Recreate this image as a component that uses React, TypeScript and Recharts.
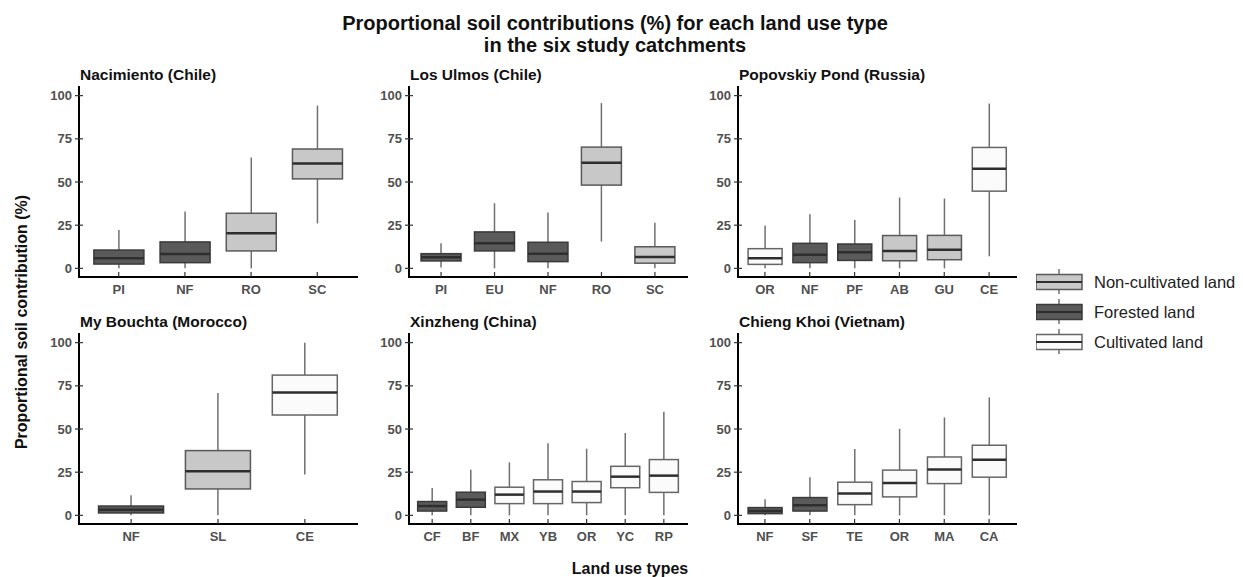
import React from 'react';
import { ComposedChart, Bar, XAxis, YAxis } from 'recharts';

// F = forested, N = non-cultivated, C = cultivated
const nacCats = ['PI', 'NF', 'RO', 'SC'];
const nacTypes = ['F', 'F', 'N', 'N'];
const nacMin = [0, 0, 0, 26];
const nacQ1 = [2.5, 3.3, 10.1, 51.8];
const nacMed = [5.8, 8.3, 20.3, 60.7];
const nacQ3 = [10.6, 15.3, 31.9, 69.1];
const nacMax = [22.2, 32.9, 64.2, 94.2];

const ulmCats = ['PI', 'EU', 'NF', 'RO', 'SC'];
const ulmTypes = ['F', 'F', 'F', 'N', 'N'];
const ulmMin = [0.5, 0, 0, 15.5, 0];
const ulmQ1 = [4.3, 10.1, 3.9, 48.2, 3];
const ulmMed = [6.4, 14.5, 8.5, 61.1, 6.6];
const ulmQ3 = [8.5, 21.1, 15.1, 70.2, 12.5];
const ulmMax = [14.5, 37.7, 32.3, 95.7, 26.4];

const popCats = ['OR', 'NF', 'PF', 'AB', 'GU', 'CE'];
const popTypes = ['C', 'F', 'F', 'N', 'N', 'C'];
const popMin = [0, 0, 0, 0, 0, 7];
const popQ1 = [2.3, 3.3, 4.6, 4.4, 5, 44.7];
const popMed = [5.8, 7.9, 9.3, 10.1, 10.8, 57.6];
const popQ3 = [11.4, 14.5, 14.1, 19, 19.1, 70];
const popMax = [24.8, 31.3, 28, 41, 40.4, 95.4];

const bouCats = ['NF', 'SL', 'CE'];
const bouTypes = ['F', 'N', 'C'];
const bouMin = [0, 0, 23.7];
const bouQ1 = [1.4, 15.3, 58.1];
const bouMed = [3.3, 25.6, 71.1];
const bouQ3 = [5.4, 37.5, 81.2];
const bouMax = [11.7, 70.9, 100];

const xinCats = ['CF', 'BF', 'MX', 'YB', 'OR', 'YC', 'RP'];
const xinTypes = ['F', 'F', 'C', 'C', 'C', 'C', 'C'];
const xinMin = [0, 0, 0, 0, 0, 0, 0];
const xinQ1 = [2.5, 4.7, 6.8, 6.8, 7.4, 16, 13.3];
const xinMed = [5.4, 9.1, 12, 13.8, 13.8, 22.4, 23];
const xinQ3 = [8, 13.4, 16.3, 20.6, 19.6, 28.4, 32.3];
const xinMax = [15.9, 26.4, 30.7, 41.8, 38.6, 47.7, 60];

const chiCats = ['NF', 'SF', 'TE', 'OR', 'MA', 'CA'];
const chiTypes = ['F', 'F', 'C', 'C', 'C', 'C'];
const chiMin = [0, 0, 0, 0, 0, 0];
const chiQ1 = [1, 2.5, 6.2, 10.7, 18.4, 22.1];
const chiMed = [2.5, 5.8, 12.6, 18.8, 26.6, 32.2];
const chiQ3 = [4.5, 10.3, 19.2, 26.2, 33.8, 40.6];
const chiMax = [9.3, 22.1, 38.4, 50.1, 56.7, 68.3];

const yTicks = [0, 25, 50, 75, 100];

const panels = [
  { title: 'Nacimiento (Chile)', cats: nacCats, types: nacTypes, lo: nacMin, q1: nacQ1, med: nacMed, q3: nacQ3, hi: nacMax },
  { title: 'Los Ulmos (Chile)', cats: ulmCats, types: ulmTypes, lo: ulmMin, q1: ulmQ1, med: ulmMed, q3: ulmQ3, hi: ulmMax },
  { title: 'Popovskiy Pond (Russia)', cats: popCats, types: popTypes, lo: popMin, q1: popQ1, med: popMed, q3: popQ3, hi: popMax },
  { title: 'My Bouchta (Morocco)', cats: bouCats, types: bouTypes, lo: bouMin, q1: bouQ1, med: bouMed, q3: bouQ3, hi: bouMax },
  { title: 'Xinzheng (China)', cats: xinCats, types: xinTypes, lo: xinMin, q1: xinQ1, med: xinMed, q3: xinQ3, hi: xinMax },
  { title: 'Chieng Khoi (Vietnam)', cats: chiCats, types: chiTypes, lo: chiMin, q1: chiQ1, med: chiMed, q3: chiQ3, hi: chiMax },
];

const FONT = '"Liberation Sans", Arial, sans-serif';
const STYLES: Record<string, { fill: string; stroke: string }> = {
  N: { fill: '#c8c8c8', stroke: '#5a5a5a' },
  F: { fill: '#5a5a5a', stroke: '#3a3a3a' },
  C: { fill: '#fbfbfb', stroke: '#666666' },
};

const PLOT_W = 278;
const PLOT_H = 190;
const Y_W = 40;
const TOP_M = 30;
const X_H = 30;

const BoxShape = (props: any) => {
  const { x, y, width, height, payload } = props;
  const { min, q1, med, q3, max, type } = payload;
  const top = Math.min(y, y + height);
  const h = Math.abs(height);
  const py = (v: number) => top + (h * (max - v)) / (max - min);
  const cx = x + width / 2;
  const s = STYLES[type];
  return (
    <g>
      <line x1={cx} x2={cx} y1={py(max)} y2={py(q3)} stroke="#707070" strokeWidth={1.5} />
      <line x1={cx} x2={cx} y1={py(q1)} y2={py(min)} stroke="#707070" strokeWidth={1.5} />
      <rect x={x} y={py(q3)} width={width} height={py(q1) - py(q3)} fill={s.fill} stroke={s.stroke} strokeWidth={1.5} />
      <line x1={x} x2={x + width} y1={py(med)} y2={py(med)} stroke="#2e2e2e" strokeWidth={2.5} />
    </g>
  );
};

const YTick = (props: any) => {
  const { x, y, payload } = props;
  return (
    <g>
      <line x1={x - 4} x2={x + 4} y1={y} y2={y} stroke="#333" strokeWidth={1.2} />
      <text x={x - 7} y={y} dy="0.36em" textAnchor="end" fontFamily={FONT} fontWeight="bold" fontSize={13} fill="#505050">
        {payload.value}
      </text>
    </g>
  );
};

const XTick = (props: any) => {
  const { x, y, payload } = props;
  return (
    <g>
      <line x1={x} x2={x} y1={y - 5} y2={y} stroke="#333" strokeWidth={1.2} />
      <text x={x} y={y + 17} textAnchor="middle" fontFamily={FONT} fontWeight="bold" fontSize={13} fill="#505050">
        {payload.value}
      </text>
    </g>
  );
};

const Panel = ({ p, plotLeft, plotTop }: any) => {
  const n = p.cats.length;
  const unit = PLOT_W / (n + 0.2);
  const data = p.cats.map((c: string, i: number) => ({
    cat: c,
    type: p.types[i],
    min: p.lo[i],
    q1: p.q1[i],
    med: p.med[i],
    q3: p.q3[i],
    max: p.hi[i],
    range: [p.lo[i], p.hi[i]],
  }));
  const axisLine = { stroke: '#000', strokeWidth: 2, strokeLinecap: 'square' as const };
  return (
    <>
      <div
        style={{
          position: 'absolute',
          left: plotLeft + 1,
          top: plotTop - 20,
          fontFamily: FONT,
          fontWeight: 'bold',
          fontSize: 15.5,
          lineHeight: '15.5px',
          color: '#111',
          whiteSpace: 'nowrap',
        }}
      >
        {p.title}
      </div>
      <div style={{ position: 'absolute', left: plotLeft - Y_W, top: plotTop - TOP_M }}>
        <ComposedChart
          width={Y_W + PLOT_W + 2}
          height={TOP_M + PLOT_H + X_H}
          data={data}
          margin={{ top: TOP_M, right: 2, left: 0, bottom: 0 }}
          barCategoryGap="12.5%"
        >
          <XAxis
            dataKey="cat"
            height={X_H}
            interval={0}
            padding={{ left: unit * 0.1, right: unit * 0.1 }}
            axisLine={axisLine}
            tickLine={false}
            tickSize={0}
            tickMargin={0}
            tick={<XTick />}
          />
          <YAxis
            type="number"
            domain={[-5, 105]}
            ticks={yTicks}
            allowDataOverflow
            width={Y_W}
            axisLine={axisLine}
            tickLine={false}
            tickSize={0}
            tickMargin={0}
            tick={<YTick />}
          />
          <Bar dataKey="range" shape={<BoxShape />} isAnimationActive={false} />
        </ComposedChart>
      </div>
    </>
  );
};

const LegendKey = ({ type, cy }: { type: string; cy: number }) => {
  const s = STYLES[type];
  return (
    <g>
      <line x1={23} x2={23} y1={cy - 13} y2={cy + 12} stroke="#707070" strokeWidth={1.5} />
      <rect x={0} y={cy - 7.5} width={46} height={15} fill={s.fill} stroke={s.stroke} strokeWidth={1.5} />
      <line x1={0} x2={46} y1={cy} y2={cy} stroke="#2e2e2e" strokeWidth={2} />
    </g>
  );
};

const legendItems = [
  { type: 'N', label: 'Non-cultivated land' },
  { type: 'F', label: 'Forested land' },
  { type: 'C', label: 'Cultivated land' },
];

const App = () => {
  const lefts = [79, 409, 738];
  const tops = [87, 334];
  return (
    <div style={{ position: 'absolute', left: 0, top: 0, width: 1243, height: 577, background: '#fff', overflow: 'hidden' }}>
      <div
        style={{
          position: 'absolute',
          left: 0,
          width: 1230,
          top: 12,
          textAlign: 'center',
          fontFamily: FONT,
          fontWeight: 'bold',
          fontSize: 20,
          lineHeight: '22px',
          color: '#111',
        }}
      >
        Proportional soil contributions (%) for each land use type
        <br />
        in the six study catchments
      </div>
      {panels.map((p, i) => (
        <Panel key={p.title} p={p} plotLeft={lefts[i % 3]} plotTop={tops[Math.floor(i / 3)]} />
      ))}
      <div
        style={{
          position: 'absolute',
          left: 22,
          top: 322,
          transform: 'translate(-50%, -50%) rotate(-90deg)',
          fontFamily: FONT,
          fontWeight: 'bold',
          fontSize: 16,
          whiteSpace: 'nowrap',
          color: '#111',
        }}
      >
        Proportional soil contribution (%)
      </div>
      <div
        style={{
          position: 'absolute',
          left: 630,
          top: 560,
          transform: 'translateX(-50%)',
          fontFamily: FONT,
          fontWeight: 'bold',
          fontSize: 16,
          whiteSpace: 'nowrap',
          color: '#111',
        }}
      >
        Land use types
      </div>
      <svg style={{ position: 'absolute', left: 1036, top: 262 }} width={207} height={100}>
        {legendItems.map((it, i) => (
          <g key={it.type}>
            <LegendKey type={it.type} cy={20 + i * 30} />
            <text x={58} y={20 + i * 30} dy="0.36em" fontFamily={FONT} fontSize={16.5} fill="#222">
              {it.label}
            </text>
          </g>
        ))}
      </svg>
    </div>
  );
};

export default App;
